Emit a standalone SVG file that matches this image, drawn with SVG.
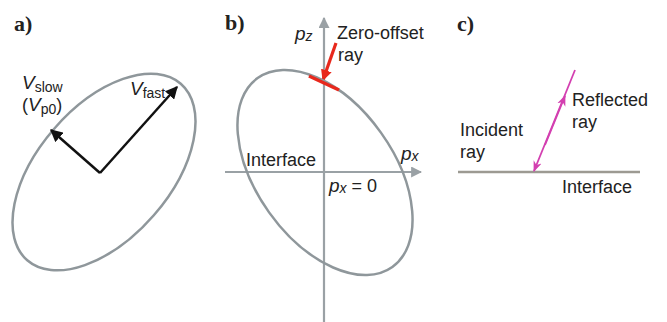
<svg xmlns="http://www.w3.org/2000/svg" width="667" height="322" viewBox="0 0 667 322">
<style>
.lbl{font-family:"Liberation Serif",serif;font-weight:bold;font-size:22px;fill:#222}
.t{font-family:"Liberation Sans",Arial,sans-serif;font-size:18px;fill:#222}
.ell{fill:none;stroke:#8f979b;stroke-width:2.5}
.axis{stroke:#9aa1a5;stroke-width:2.2;fill:none}
</style>
<defs>
<marker id="ab" viewBox="0 0 10 10" refX="9" refY="5" markerWidth="5" markerHeight="5" orient="auto" markerUnits="strokeWidth"><path d="M0,0L10,5L0,10z" fill="#111"/></marker>
<marker id="ag" viewBox="0 0 10 10" refX="9" refY="5" markerWidth="5" markerHeight="5" orient="auto" markerUnits="strokeWidth"><path d="M0,0L10,5L0,10z" fill="#9aa1a5"/></marker>
<marker id="ar" viewBox="0 0 10 10" refX="9" refY="5" markerWidth="3.5" markerHeight="3.5" orient="auto" markerUnits="strokeWidth"><path d="M0,0L10,5L0,10z" fill="#e8281c"/></marker>
<marker id="am" viewBox="0 0 10 10" refX="9" refY="5" markerWidth="6" markerHeight="6" orient="auto" markerUnits="strokeWidth"><path d="M0,1L10,5L0,9L3,5z" fill="#d33fb0"/></marker>
</defs>
<g id="panel-a">
<text class="lbl" x="14" y="31">a)</text>
<ellipse class="ell" cx="104" cy="172" rx="117" ry="66" transform="rotate(-49 104 172)"/>
<g id="a-connectors">
<line x1="100" y1="173" x2="177" y2="87" stroke="#111" stroke-width="2.5" marker-end="url(#ab)"/>
<line x1="100" y1="173" x2="51" y2="130" stroke="#111" stroke-width="2.5" marker-end="url(#ab)"/>
</g>
<text class="t" x="22" y="89"><tspan font-style="italic" font-size="19">V</tspan><tspan font-size="14" dy="3">slow</tspan></text>
<text class="t" x="22" y="111">(<tspan font-style="italic" font-size="19">V</tspan><tspan font-size="14" dy="3">p0</tspan><tspan dy="-3">)</tspan></text>
<text class="t" x="130" y="95"><tspan font-style="italic" font-size="19">V</tspan><tspan font-size="14" dy="3">fast</tspan></text>
</g>
<g id="panel-b">
<text class="lbl" x="225" y="30">b)</text>
<g id="b-connectors">
<line class="axis" x1="324" y1="322" x2="324" y2="18" marker-end="url(#ag)"/>
<line class="axis" x1="225" y1="172" x2="421" y2="172" marker-end="url(#ag)"/>
<line x1="336" y1="43" x2="323" y2="80" stroke="#e8281c" stroke-width="3.2" marker-end="url(#ar)"/>
</g>
<ellipse class="ell" cx="325" cy="172.5" rx="116" ry="68.7" transform="rotate(54.5 325 172.5)"/>
<line x1="309" y1="76" x2="339" y2="90" stroke="#e8281c" stroke-width="3.5"/>
<text class="t" x="295" y="40"><tspan font-style="italic" font-size="19">p</tspan><tspan font-style="italic" font-size="14" dy="1">z</tspan></text>
<text class="t" x="337" y="39">Zero-offset</text>
<text class="t" x="338" y="61">ray</text>
<text class="t" x="246" y="166">Interface</text>
<text class="t" x="401" y="160"><tspan font-style="italic" font-size="19">p</tspan><tspan font-style="italic" font-size="14" dy="1">x</tspan></text>
<text class="t" x="329" y="192"><tspan font-style="italic" font-size="19">p</tspan><tspan font-style="italic" font-size="14" dy="1">x</tspan><tspan dy="-1"> = 0</tspan></text>
</g>
<g id="panel-c">
<text class="lbl" x="457" y="31">c)</text>
<line x1="458" y1="172" x2="640" y2="172" stroke="#9c9a92" stroke-width="2.5"/>
<g id="c-connectors">
<line x1="575" y1="70" x2="534" y2="171" stroke="#d33fb0" stroke-width="1.8" marker-end="url(#am)"/>
<line x1="545" y1="145" x2="565" y2="96" stroke="#d33fb0" stroke-width="1.8" marker-end="url(#am)"/>
</g>
<text class="t" x="572" y="106">Reflected</text>
<text class="t" x="572" y="128">ray</text>
<text class="t" x="460" y="136">Incident</text>
<text class="t" x="460" y="158">ray</text>
<text class="t" x="562" y="193">Interface</text>
</g>
</svg>
